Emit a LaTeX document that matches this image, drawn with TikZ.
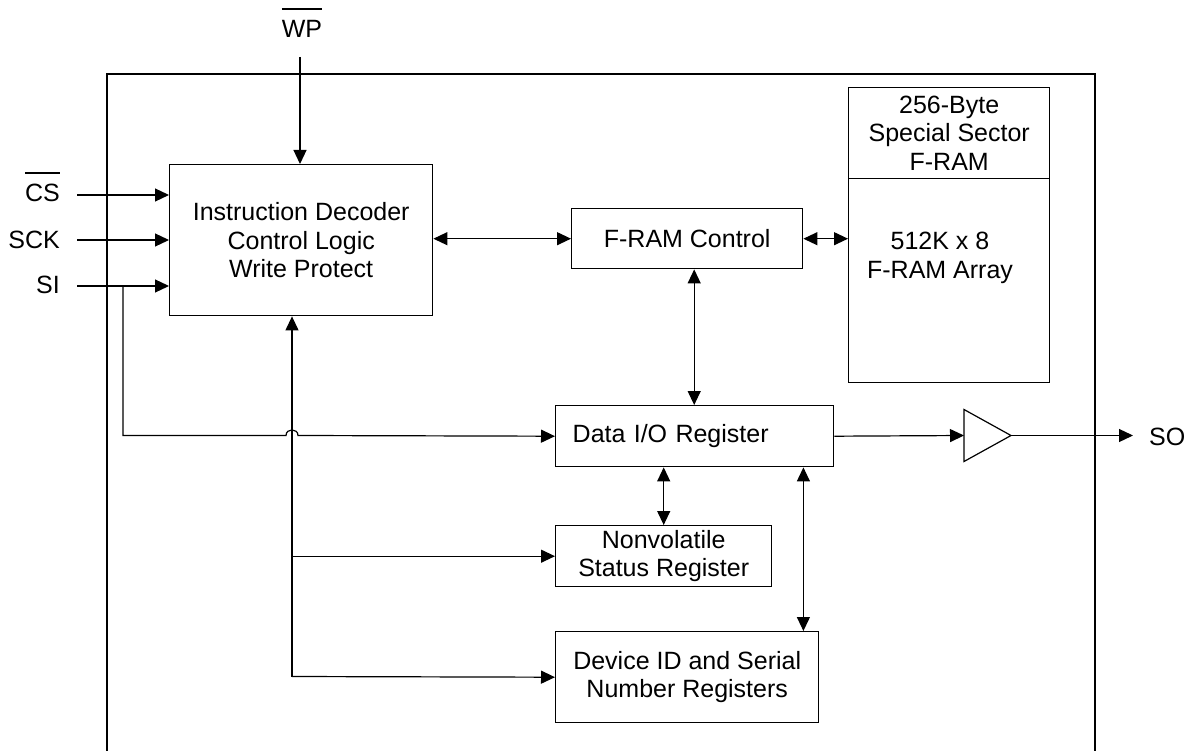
\documentclass[tikz,border=0pt]{standalone}
\usepackage{fontspec}
\setmainfont{Liberation Sans}
\usetikzlibrary{arrows.meta}

% active-low pin name
\newcommand{\barsig}[1]{\vbox{\hrule height 1.3pt\kern 11pt\hbox{#1}}}

\begin{document}
\begin{tikzpicture}[x=1pt, y=-1pt, font=\fontsize{25}{28.5}\selectfont,
	blk/.style={draw, line width=1.4pt, inner sep=0pt, anchor=north west, align=center},
	sig/.style={line width=1.2pt, -{Triangle[length=14pt,width=13pt]}},
	bus/.style={line width=1.2pt, {Triangle[length=14pt,width=13pt]}-{Triangle[length=14pt,width=13pt]}},
	pin/.style={inner sep=0pt}]
	\useasboundingbox (0,0) rectangle (1193,751);
	% chip outline
	\draw[line width=1.4pt] (107,751) -- (107,74) -- (1095,74) -- (1095,751);
	% blocks
		\node[blk, minimum width=263pt, minimum height=151pt] (dec) at (169,164) {Instruction Decoder\\Control Logic\\Write Protect};
		\node[blk, minimum width=231pt, minimum height=60pt] (ctl) at (571,208) {F-RAM Control};
		\node[blk, minimum width=201pt, minimum height=91pt] (sec) at (848,87) {256-Byte\\Special Sector\\F-RAM};
		\node[blk, minimum width=201pt, minimum height=204pt] (mem) at (848,178) {};
		\node[align=center] (memtxt) at (940,258) {512K x 8\\F-RAM Array};
		\node[blk, minimum width=278pt, minimum height=61pt, text width=244pt, inner xsep=17pt, align=left] (dio) at (555,405) {Data I/O Register};
		\node[blk, minimum width=216pt, minimum height=61pt] (nvs) at (555,525) {Nonvolatile\\Status Register};
		\node[blk, minimum width=263pt, minimum height=91pt] (did) at (555,631) {Device ID and Serial\\Number Registers};
	% pins
		\node[pin, anchor=base] (wp) at (302,38) {\barsig{WP}};
		\node[pin, anchor=base east] (cs) at (60,202) {\barsig{CS}};
		\node[pin, anchor=base east] (sck) at (60,248) {SCK};
		\node[pin, anchor=base east] (si) at (60,293) {SI};
		\node[pin, anchor=base west] (so) at (1149,445) {SO};
		\coordinate (wp-end) at (300,57);
		\coordinate (cs-end) at (77,195);
		\coordinate (sck-end) at (77,240);
		\coordinate (si-end) at (77,286);
		\coordinate (si-tap) at (123,286);
		\coordinate (hop-l) at (286,435.5);
		\coordinate (hop-r) at (298,435.5);
		\coordinate (fan-bot) at (292,676.5);
		\coordinate (so-end) at (1133,435.5);
	% output buffer
		\coordinate (buf-in) at (964,435.5);
		\coordinate (buf-out) at (1011,435.5);
		\draw[line width=1.2pt] (buf-in) -- (964,409.5) -- (buf-out) -- (964,461.5) -- cycle;
	% inputs
		\draw[sig] (wp-end) -- (wp-end |- dec.north);
		\draw[sig] (cs-end) -- (cs-end -| dec.west);
		\draw[sig] (sck-end) -- (sck-end -| dec.west);
		\draw[sig] (si-end) -- (si-end -| dec.west);
		\draw[sig] (si-tap) -- (si-tap |- hop-l) -- (hop-l) .. controls (286,428) and (298,428) .. (hop-r) -- (dio.west);
		\draw[sig] (fan-bot) -- (fan-bot |- dec.south);
		\draw[sig] (fan-bot |- nvs.west) -- (nvs.west);
		\draw[sig] (fan-bot) -- (did.west);
	% internal buses
		\draw[bus] (ctl.west -| dec.east) -- (ctl.west);
		\draw[bus] (ctl.east) -- (ctl.east -| mem.west);
		\draw[bus] ([xshift=7pt]ctl.south) -- ([xshift=7pt]ctl.south |- dio.north);
		\draw[bus] (nvs.north |- dio.south) -- (nvs.north);
		\draw[bus] ([xshift=-16pt]did.north east |- dio.south) -- ([xshift=-16pt]did.north east);
	% output
		\draw[sig] (dio.east) -- (buf-in);
		\draw[sig] (buf-out) -- (so-end);
\end{tikzpicture}
\end{document}
